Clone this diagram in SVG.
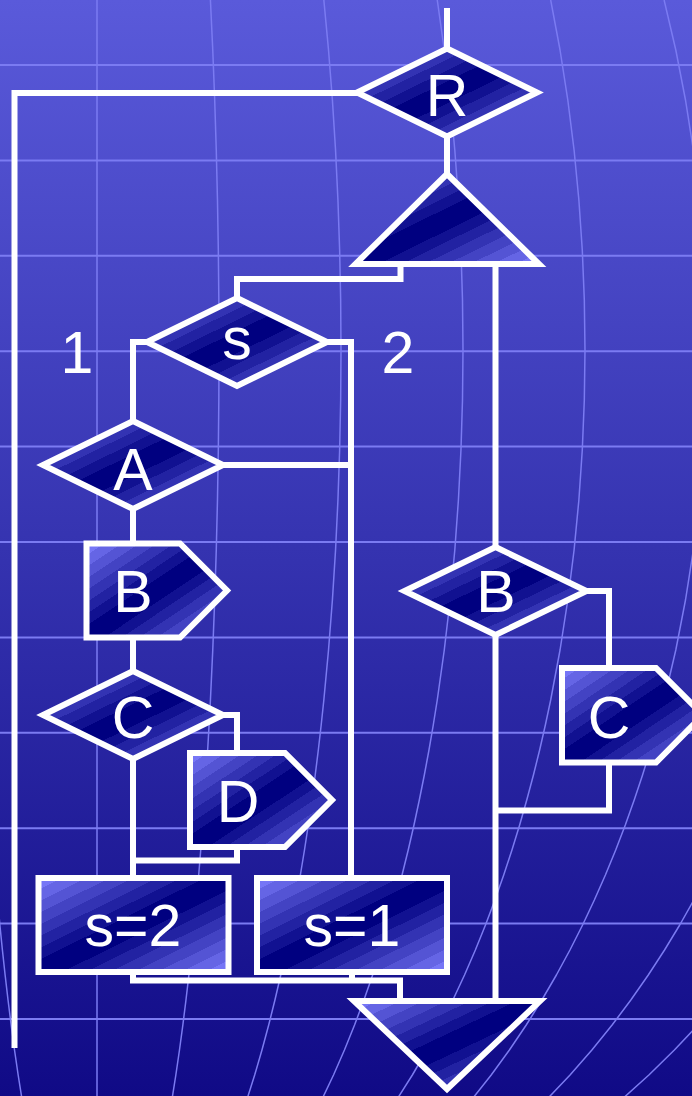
<svg xmlns="http://www.w3.org/2000/svg" width="692" height="1096" viewBox="0 0 692 1096">
  <defs>
    <linearGradient id="bgGrad" x1="0" y1="0" x2="0" y2="1">
      <stop offset="0" stop-color="#5a5ada"/>
      <stop offset="0.5" stop-color="#3533b0"/>
      <stop offset="1" stop-color="#100a86"/>
    </linearGradient>
    <linearGradient id="shade" x1="0" y1="0" x2="1" y2="1">
      <stop offset="0" stop-color="#7676f6"/>
      <stop offset="0.0625" stop-color="#7676f6"/>
      <stop offset="0.0625" stop-color="#6565e5"/>
      <stop offset="0.125" stop-color="#6565e5"/>
      <stop offset="0.125" stop-color="#5454d4"/>
      <stop offset="0.1875" stop-color="#5454d4"/>
      <stop offset="0.1875" stop-color="#4343c3"/>
      <stop offset="0.25" stop-color="#4343c3"/>
      <stop offset="0.25" stop-color="#3333b3"/>
      <stop offset="0.3125" stop-color="#3333b3"/>
      <stop offset="0.3125" stop-color="#2222a2"/>
      <stop offset="0.375" stop-color="#2222a2"/>
      <stop offset="0.375" stop-color="#111191"/>
      <stop offset="0.4375" stop-color="#111191"/>
      <stop offset="0.4375" stop-color="#000080"/>
      <stop offset="0.5625" stop-color="#000080"/>
      <stop offset="0.5625" stop-color="#111191"/>
      <stop offset="0.625" stop-color="#111191"/>
      <stop offset="0.625" stop-color="#2222a2"/>
      <stop offset="0.6875" stop-color="#2222a2"/>
      <stop offset="0.6875" stop-color="#3333b3"/>
      <stop offset="0.75" stop-color="#3333b3"/>
      <stop offset="0.75" stop-color="#4343c3"/>
      <stop offset="0.8125" stop-color="#4343c3"/>
      <stop offset="0.8125" stop-color="#5454d4"/>
      <stop offset="0.875" stop-color="#5454d4"/>
      <stop offset="0.875" stop-color="#6565e5"/>
      <stop offset="0.9375" stop-color="#6565e5"/>
      <stop offset="0.9375" stop-color="#7676f6"/>
      <stop offset="1" stop-color="#7676f6"/>
    </linearGradient>
  </defs>
  <style>
    .gh line { stroke:#7b7bf2; stroke-width:2; }
    .mer path, .mer line { fill:none; stroke:#7b7bf2; stroke-width:1.5; stroke-linejoin:round; }
    .shape { fill:url(#shade); stroke:#ffffff; stroke-width:6; stroke-linejoin:miter; stroke-miterlimit:10; }
    .conn path { fill:none; stroke:#ffffff; stroke-width:6; stroke-linejoin:miter; stroke-linecap:butt; }
    .lbl { font-family:"Liberation Sans", Arial, sans-serif; font-size:59px; fill:#ffffff; text-anchor:middle; }
  </style>

  <g id="background">
    <rect x="0" y="0" width="692" height="1096" fill="url(#bgGrad)"/>
    <g class="mer">
      <line x1="97" y1="0" x2="97" y2="1096"/>
      <path d="M-2.47,900 L-0.12,925 L2.41,950 L5.12,975 L8.03,1000 L11.15,1025 L14.52,1050 L18.16,1075 L22.12,1100"/>
      <path d="M210.42,0 L212.76,50 L214.70,100 L216.27,150 L217.47,200 L218.32,250 L218.83,300 L219,350 L218.83,400 L218.32,450 L217.47,500 L216.27,550 L214.70,600 L212.76,650 L210.42,700 L209.09,725 L207.66,750 L206.11,775 L204.44,800 L202.66,825 L200.74,850 L198.68,875 L196.47,900 L194.12,925 L191.59,950 L188.88,975 L185.97,1000 L182.85,1025 L179.48,1050 L175.84,1075 L171.88,1100"/>
      <path d="M323.84,0 L328.52,50 L332.40,100 L335.54,150 L337.94,200 L339.64,250 L340.66,300 L341,350 L340.66,400 L339.64,450 L337.94,500 L335.54,550 L332.40,600 L328.52,650 L323.84,700 L321.18,725 L318.32,750 L315.22,775 L311.88,800 L308.32,825 L304.48,850 L300.36,875 L295.94,900 L291.24,925 L286.18,950 L280.76,975 L274.94,1000 L268.70,1025 L261.96,1050 L254.68,1075 L246.76,1100"/>
      <path d="M437.26,0 L444.28,50 L450.10,100 L454.81,150 L458.41,200 L460.96,250 L462.49,300 L463,350 L462.49,400 L460.96,450 L458.41,500 L454.81,550 L450.10,600 L444.28,650 L437.26,700 L433.27,725 L428.98,750 L424.33,775 L419.32,800 L413.98,825 L408.22,850 L402.04,875 L395.41,900 L388.36,925 L380.77,950 L372.64,975 L363.91,1000 L354.55,1025 L344.44,1050 L333.52,1075 L321.64,1100"/>
      <path d="M550.68,0 L560.04,50 L567.80,100 L574.08,150 L578.88,200 L582.28,250 L584.32,300 L585,350 L584.32,400 L582.28,450 L578.88,500 L574.08,550 L567.80,600 L560.04,650 L550.68,700 L545.36,725 L539.64,750 L533.44,775 L526.76,800 L519.64,825 L511.96,850 L503.72,875 L494.88,900 L485.48,925 L475.36,950 L464.52,975 L452.88,1000 L440.40,1025 L426.92,1050 L412.36,1075 L396.52,1100"/>
      <path d="M664.10,0 L675.80,50 L685.50,100 L693.35,150 M693.35,550 L685.50,600 L675.80,650 L664.10,700 L657.45,725 L650.30,750 L642.55,775 L634.20,800 L625.30,825 L615.70,850 L605.40,875 L594.35,900 L582.60,925 L569.95,950 L556.40,975 L541.85,1000 L526.25,1025 L509.40,1050 L491.20,1075 L471.40,1100"/>
      <path d="M693.82,900 L679.72,925 L664.54,950 L648.28,975 L630.82,1000 L612.10,1025 L591.88,1050 L570.04,1075 L546.28,1100"/>
      <path d="M697.95,1025 L674.36,1050 L648.88,1075 L621.16,1100"/>
    </g>
    <g class="gh">
      <line x1="0" y1="65" x2="692" y2="65"/>
      <line x1="0" y1="160.4" x2="692" y2="160.4"/>
      <line x1="0" y1="255.8" x2="692" y2="255.8"/>
      <line x1="0" y1="351.2" x2="692" y2="351.2"/>
      <line x1="0" y1="446.6" x2="692" y2="446.6"/>
      <line x1="0" y1="542" x2="692" y2="542"/>
      <line x1="0" y1="637.4" x2="692" y2="637.4"/>
      <line x1="0" y1="732.8" x2="692" y2="732.8"/>
      <line x1="0" y1="828.2" x2="692" y2="828.2"/>
      <line x1="0" y1="923.6" x2="692" y2="923.6"/>
      <line x1="0" y1="1019" x2="692" y2="1019"/>
    </g>
  </g>

  <g id="connectors" class="conn">
    <path d="M447,8 V48.5"/>
    <path d="M357,93 H14.5 V1048"/>
    <path d="M447,136.5 V174"/>
    <path d="M400.5,264 V279 H237 V298"/>
    <path d="M495.5,264 V547"/>
    <path d="M147,342 H133 V421"/>
    <path d="M327,342 H351 V878"/>
    <path d="M223,465 H351"/>
    <path d="M133,509 V543.5"/>
    <path d="M133,637.5 V671"/>
    <path d="M223,715 H237 V753"/>
    <path d="M133,759 V878"/>
    <path d="M237,847 V860.5 H133"/>
    <path d="M133,972 V980.5 H400 V1001"/>
    <path d="M352,972 V980.5"/>
    <path d="M586.5,591 H609 V668"/>
    <path d="M609,762.5 V810.5 H495.5"/>
    <path d="M495.5,635 V1001"/>
  </g>

  <g id="node-R">
    <polygon class="shape" points="447,48.5 537,92.5 447,136.5 357,92.5"/>
    <text class="lbl" x="447" y="116">R</text>
  </g>
  <g id="node-open">
    <polygon class="shape" points="447,174 539,264 355.5,264"/>
  </g>
  <g id="node-s">
    <polygon class="shape" points="237,298 327,342 237,386 147,342"/>
    <text class="lbl" x="237" y="359">s</text>
  </g>
  <g id="label-1">
    <text class="lbl" x="77" y="373">1</text>
  </g>
  <g id="label-2">
    <text class="lbl" x="398" y="373">2</text>
  </g>
  <g id="node-A">
    <polygon class="shape" points="133,421 223,465 133,509 43,465"/>
    <text class="lbl" x="133" y="490">A</text>
  </g>
  <g id="node-B1">
    <polygon class="shape" points="86.5,543.5 180,543.5 227,590.5 180,637.5 86.5,637.5"/>
    <text class="lbl" x="133" y="612">B</text>
  </g>
  <g id="node-C1">
    <polygon class="shape" points="133,671 223,715 133,759 43,715"/>
    <text class="lbl" x="133" y="738">C</text>
  </g>
  <g id="node-D">
    <polygon class="shape" points="190,753 285,753 332,800 285,847 190,847"/>
    <text class="lbl" x="238" y="822">D</text>
  </g>
  <g id="node-s2">
    <rect class="shape" x="38.5" y="878" width="190" height="94"/>
    <text class="lbl" x="133" y="946">s=2</text>
  </g>
  <g id="node-s1">
    <rect class="shape" x="257" y="878" width="190" height="94"/>
    <text class="lbl" x="352" y="946">s=1</text>
  </g>
  <g id="node-B2">
    <polygon class="shape" points="495.5,547 586.5,591 495.5,635 404.5,591"/>
    <text class="lbl" x="496" y="612">B</text>
  </g>
  <g id="node-C2">
    <polygon class="shape" points="562,668 656,668 703,715 656,762.5 562,762.5"/>
    <text class="lbl" x="609" y="738">C</text>
  </g>
  <g id="node-close">
    <polygon class="shape" points="354,1001 540,1001 447,1089"/>
  </g>
</svg>
